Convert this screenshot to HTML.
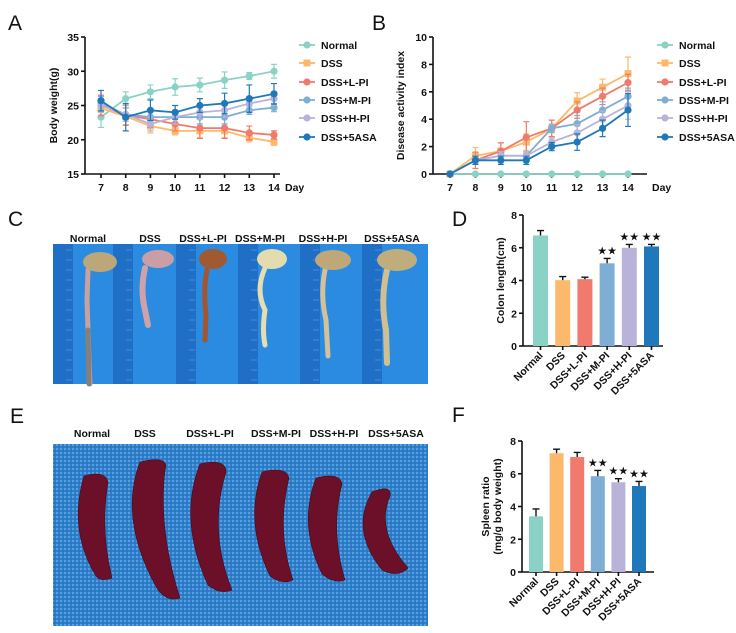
<!DOCTYPE html>
<html><head><meta charset="utf-8"><style>
html,body{margin:0;padding:0;background:#fff;}
svg{display:block;font-family:"Liberation Sans",Arial,sans-serif;}
.t{font-weight:bold;font-size:10.5px;fill:#111;}
.pl{font-size:21px;fill:#111;}
.ax{stroke:#111;stroke-width:1.6;fill:none;}
</style></head><body>
<svg id="fig" width="736" height="633" viewBox="0 0 736 633">
<defs>
<pattern id="cloth" width="4" height="4" patternUnits="userSpaceOnUse">
<rect width="4" height="4" fill="#2d7fcb"/>
<circle cx="1" cy="1" r="0.9" fill="#7ab6ea"/>
<circle cx="3" cy="3" r="0.6" fill="#1f63a8"/>
</pattern>
</defs>
<!-- panel letters -->
<text class="pl" x="8" y="30">A</text>
<text class="pl" x="372" y="30">B</text>
<text class="pl" x="8" y="226">C</text>
<text class="pl" x="452" y="226">D</text>
<text class="pl" x="10" y="423">E</text>
<text class="pl" x="452" y="422">F</text>

<!-- Panel C photo -->
<g>
<rect x="53" y="244" width="375" height="140" fill="#2a8be0"/>
<g fill="#1e6cc4" opacity="0.9">
<rect x="53" y="244" width="20" height="140"/><rect x="113" y="244" width="20" height="140"/>
<rect x="176" y="244" width="20" height="140"/><rect x="238" y="244" width="20" height="140"/>
<rect x="300" y="244" width="20" height="140"/><rect x="362" y="244" width="20" height="140"/>
</g>
<g stroke="#9fc6ee" stroke-width="0.6" opacity="0.7">
<path d="M66 250H72M66 260H72M66 270H72M66 280H72M66 290H72M66 300H72M66 310H72M66 320H72M66 330H72M66 340H72M66 350H72M66 360H72M66 370H72M66 380H72"/>
<path d="M126 250H132M126 260H132M126 270H132M126 280H132M126 290H132M126 300H132M126 310H132M126 320H132M126 330H132M126 340H132M126 350H132M126 360H132M126 370H132M126 380H132"/>
<path d="M189 250H195M189 260H195M189 270H195M189 280H195M189 290H195M189 300H195M189 310H195M189 320H195M189 330H195M189 340H195M189 350H195M189 360H195M189 370H195M189 380H195"/>
<path d="M251 250H257M251 260H257M251 270H257M251 280H257M251 290H257M251 300H257M251 310H257M251 320H257M251 330H257M251 340H257M251 350H257M251 360H257M251 370H257M251 380H257"/>
<path d="M313 250H319M313 260H319M313 270H319M313 280H319M313 290H319M313 300H319M313 310H319M313 320H319M313 330H319M313 340H319M313 350H319M313 360H319M313 370H319M313 380H319"/>
<path d="M375 250H381M375 260H381M375 270H381M375 280H381M375 290H381M375 300H381M375 310H381M375 320H381M375 330H381M375 340H381M375 350H381M375 360H381M375 370H381M375 380H381"/>
</g>
<g stroke-linecap="round" fill="none">
<path d="M88 270 L87 300 L88 330 L89 362 L90 384" stroke="#c7a2a0" stroke-width="5"/>
<path d="M88 330 L89 384" stroke="#8a7f78" stroke-width="5"/>
<path d="M145 268 Q140 290 145 310 L148 325" stroke="#cfa2aa" stroke-width="6"/>
<path d="M207 270 Q203 290 206 315 L205 340" stroke="#a2552e" stroke-width="5"/>
<path d="M265 268 Q255 290 265 310 Q262 330 265 345" stroke="#e6ddb0" stroke-width="5"/>
<path d="M325 270 Q320 295 326 320 L328 356" stroke="#d4c09a" stroke-width="5"/>
<path d="M387 270 Q380 300 386 330 L387 363" stroke="#cec093" stroke-width="6"/>
</g>
<ellipse cx="100" cy="262" rx="17" ry="10" fill="#bba77a"/>
<ellipse cx="158" cy="259" rx="16" ry="9" fill="#c99ea4"/>
<ellipse cx="213" cy="259" rx="14" ry="10" fill="#a05a33"/>
<ellipse cx="272" cy="259" rx="15" ry="10" fill="#e4dbaf"/>
<ellipse cx="333" cy="260" rx="18" ry="10" fill="#bea877"/>
<ellipse cx="397" cy="260" rx="20" ry="11" fill="#bfae7c"/>
</g>
<g class="t" text-anchor="middle">
<text x="88" y="242">Normal</text><text x="150" y="242">DSS</text><text x="203" y="242">DSS+L-PI</text>
<text x="260" y="242">DSS+M-PI</text><text x="323" y="242">DSS+H-PI</text><text x="392" y="242">DSS+5ASA</text>
</g>

<!-- Panel E photo -->
<g>
<rect x="53" y="444" width="375" height="182" fill="url(#cloth)"/>
<g fill="#6b1028" stroke="#4a0818" stroke-width="0.6">
<path d="M84 476 Q105 470 108 482 Q100 530 112 578 Q100 582 96 576 Q68 530 84 476Z"/>
<path d="M140 462 Q170 455 165 470 Q158 530 180 598 Q168 602 158 590 Q118 520 140 462Z"/>
<path d="M200 464 Q226 458 226 472 Q208 530 232 590 Q220 595 208 585 Q178 520 200 464Z"/>
<path d="M262 472 Q286 466 289 478 Q276 530 293 580 Q282 585 270 576 Q244 522 262 472Z"/>
<path d="M316 478 Q340 472 342 484 Q330 530 345 580 Q334 584 322 574 Q298 525 316 478Z"/>
<path d="M372 492 Q392 484 390 496 Q375 530 408 568 Q398 578 382 570 Q350 530 372 492Z"/>
</g>
</g>
<g class="t" text-anchor="middle">
<text x="92" y="437">Normal</text><text x="145" y="437">DSS</text><text x="210" y="437">DSS+L-PI</text>
<text x="276" y="437">DSS+M-PI</text><text x="334" y="437">DSS+H-PI</text><text x="396" y="437">DSS+5ASA</text>
</g>

<g id="charts"></g>
</svg>
<script>
const days=[7,8,9,10,11,12,13,14];
const groups=["Normal","DSS","DSS+L-PI","DSS+M-PI","DSS+H-PI","DSS+5ASA"];
const colors=["#8ad2c6","#fdb96b","#f07a6b","#7eaed4","#b9b3da","#1f78b9"];
// Panel A body weight
const bwNormal=[23.3,26,27,27.7,28,28.7,29.3,30];
const bwDSS=[24.6,23.4,22,21.3,21.3,21.3,20.3,19.7];
const bwL=[25,23.6,23,22.3,21.7,21.7,21,20.7];
const bwM=[25.3,23.7,23.3,23.3,23.3,23.3,24.3,24.7];
const bwH=[25,23.7,22.3,23.3,24,24.3,25.3,26];
const bw5=[25.7,23.3,24.3,24,25,25.3,26,26.7];
const bwErrNormal=[1.5,1,1,1.2,1,1.2,0.5,1];
const bwErrDSS=[1,1.2,1,0.6,1,1,0.6,0.5];
const bwErrL=[1.5,1.5,1.2,1,1.5,1.5,1,0.6];
const bwErrM=[1,1,1,1,1,1,0.6,0.6];
const bwErrH=[1,1,1,1,1,1,1,1];
const bwErr5=[1.5,2,1.5,1,1,1.5,2,1.5];
const bwTicks=[15,20,25,30,35];
// Panel B DAI
const daiNormal=[0,0,0,0,0,0,0,0];
const daiDSS=[0,1.33,1.67,2.33,3.33,5.33,6.33,7.33];
const daiL=[0,1,1.67,2.67,3.33,4.67,5.67,6.67];
const daiM=[0,1,1.33,1.33,3.33,3.67,4.67,5.67];
const daiH=[0,1,1.33,1.33,2.33,3,4,5];
const dai5=[0,1,1,1,2,2.33,3.33,4.67];
const daiErrNormal=[0,0,0,0,0,0,0,0];
const daiErrDSS=[0,0.6,0.6,0.6,0.6,0.6,0.6,1.2];
const daiErrL=[0,0.6,0.6,1.15,0.6,0.6,0.6,0.6];
const daiErrM=[0,0.3,0.3,0.3,0.3,0.6,0.6,0.6];
const daiErrH=[0,0.3,0.3,0.3,0.3,0.6,0.6,1];
const daiErr5=[0,0.3,0.3,0.3,0.3,0.6,0.6,1.2];
const daiTicks=[0,2,4,6,8,10];
// Panel D colon length
const colonLen=[6.75,4.02,4.08,5.05,6.0,6.08];
const colonErr=[0.3,0.22,0.12,0.3,0.2,0.12];
const colonSig=[false,false,false,true,true,true];
// Panel F spleen ratio
const spleenRatio=[3.4,7.25,7.02,5.85,5.48,5.25];
const spleenErr=[0.45,0.25,0.28,0.35,0.22,0.28];
const spleenSig=[false,false,false,true,true,true];
const barTicks=[0,2,4,6,8];

const NS="http://www.w3.org/2000/svg";
const root=document.getElementById("charts");
function mk(tag,attrs,parent,text){const e=document.createElementNS(NS,tag);for(const k in attrs)e.setAttribute(k,attrs[k]);if(text!==undefined)e.textContent=text;(parent||root).appendChild(e);return e;}

function lineChart(id,xs,ys,yTicks,series,errs,ax,legendX,yLabel,yLabelX){
  const g=mk("g",{});
  
  
  mk("line",{x1:ax.x0,y1:ax.yTop,x2:ax.x0,y2:ax.yBot,class:"ax"},g);
  mk("line",{x1:ax.x0,y1:ax.yBot,x2:ax.xEnd,y2:ax.yBot,class:"ax"},g);
  yTicks.forEach(t=>{const y=ys(t);
    mk("line",{x1:ax.x0-4,y1:y,x2:ax.x0,y2:y,class:"ax"},g);
    const tl=mk("text",{x:ax.x0-6,y:y+4,class:"t","text-anchor":"end"},g,String(t));
    
    });
  days.forEach(d=>{const x=xs(d);
    mk("line",{x1:x,y1:ax.yBot,x2:x,y2:ax.yBot+4,class:"ax"},g);
    const tl=mk("text",{x:x,y:ax.yBot+17,class:"t","text-anchor":"middle"},g,String(d));
    
    });
  const dl=mk("text",{x:ax.xEnd+5,y:ax.yBot+17,class:"t","font-size":"12"},g,"Day");
  
  
  const cy=(ax.yTop+ax.yBot)/2;
  const yl=mk("text",{x:yLabelX,y:cy,class:"t","font-size":"12","text-anchor":"middle",transform:`rotate(-90 ${yLabelX} ${cy})`},g,yLabel);
  
  
  series.forEach((vals,si)=>{
    const c=colors[si];
    const sg=mk("g",{},g);
    
    
    vals.forEach((v,i)=>{const e=errs[si][i];if(e>0){const x=xs(days[i]);
      mk("path",{d:`M${x} ${ys(v-e)}V${ys(v+e)}M${x-3} ${ys(v+e)}H${x+3}M${x-3} ${ys(v-e)}H${x+3}`,stroke:c,"stroke-width":1.2,fill:"none"},sg);}});
    mk("polyline",{points:vals.map((v,i)=>xs(days[i])+","+ys(v)).join(" "),stroke:c,"stroke-width":1.8,fill:"none"},sg);
    vals.forEach((v,i)=>{const x=xs(days[i]),y=ys(v);
      if(si===1)mk("rect",{x:x-3.5,y:y-3.5,width:7,height:7,fill:c},sg);
      else mk("circle",{cx:x,cy:y,r:3.6,fill:c},sg);});
  });
  const rowsY=[45,63,82,100,118,137];
  groups.forEach((nm,si)=>{const y=rowsY[si],c=colors[si];
    const lg=mk("g",{},g);
    
    
    mk("line",{x1:legendX,y1:y,x2:legendX+16,y2:y,stroke:c,"stroke-width":1.8},lg);
    if(si===1)mk("rect",{x:legendX+4.5,y:y-3.5,width:7,height:7,fill:c},lg);
    else mk("circle",{cx:legendX+8,cy:y,r:3.6,fill:c},lg);
    mk("text",{x:legendX+22,y:y+4,class:"t"},lg,nm);});
}

const xA=d=>101+(d-7)*(173/7), yA=v=>174-(v-15)*(137/20);
lineChart("body-weight",xA,yA,bwTicks,[bwNormal,bwDSS,bwL,bwM,bwH,bw5],[bwErrNormal,bwErrDSS,bwErrL,bwErrM,bwErrH,bwErr5],
  {x0:85,yTop:37,yBot:174,xEnd:280},299,"Body weight(g)",57);
const xB=d=>450+(d-7)*(178/7), yB=v=>174-v*13.7;
lineChart("dai",xB,yB,daiTicks,[daiNormal,daiDSS,daiL,daiM,daiH,dai5],[daiErrNormal,daiErrDSS,daiErrL,daiErrM,daiErrH,daiErr5],
  {x0:433,yTop:37,yBot:174,xEnd:647},657,"Disease activity index",404);

function barChart(id,vals,errs,sig,ax,yLabels){
  const g=mk("g",{});
  
  
  const ys=v=>ax.yBot-v*(ax.yBot-ax.yTop)/8;
  const xs=i=>ax.c0+i*ax.step;
  mk("line",{x1:ax.x0,y1:ax.yTop,x2:ax.x0,y2:ax.yBot,class:"ax"},g);
  mk("line",{x1:ax.x0,y1:ax.yBot,x2:ax.xEnd,y2:ax.yBot,class:"ax"},g);
  barTicks.forEach(t=>{const y=ys(t);
    mk("line",{x1:ax.x0-4,y1:y,x2:ax.x0,y2:y,class:"ax"},g);
    const tl=mk("text",{x:ax.x0-6,y:y+4,class:"t","text-anchor":"end"},g,String(t));
    
    });
  vals.forEach((v,i)=>{const x=xs(i),c=colors[i];
    const b=mk("rect",{x:x-ax.w/2,y:ys(v),width:ax.w,height:ax.yBot-ys(v),fill:c},g);
    
    
    const top=ys(v+errs[i]);
    mk("path",{d:`M${x} ${ys(v)}V${top}M${x-3.5} ${top}H${x+3.5}`,stroke:"#111","stroke-width":1.4,fill:"none"},g);
    mk("line",{x1:x,y1:ax.yBot,x2:x,y2:ax.yBot+4,class:"ax"},g);
    const lx=x+3,ly=ax.yBot+10;
    const tl=mk("text",{x:lx,y:ly,class:"t","text-anchor":"end",transform:`rotate(-45 ${lx} ${ly})`},g,groups[i]);
    
    
    if(sig[i]){const s=mk("text",{x:x,y:top-4,"text-anchor":"middle","font-size":"11",fill:"#111"},g,"★★");
      
      }
  });
  const cy=(ax.yTop+ax.yBot)/2;
  yLabels.forEach((lab,k)=>{const lx=ax.labX+k*12;
    const yl=mk("text",{x:lx,y:cy,class:"t","font-size":"12","text-anchor":"middle",transform:`rotate(-90 ${lx} ${cy})`},g,lab);
    
    });
}
barChart("colon-length",colonLen,colonErr,colonSig,{x0:523,yTop:215,yBot:346,xEnd:663,c0:540.5,step:22.2,w:15,labX:504},["Colon length(cm)"]);
barChart("spleen-ratio",spleenRatio,spleenErr,spleenSig,{x0:522,yTop:441,yBot:572,xEnd:654,c0:536,step:20.6,w:14,labX:489},["Spleen ratio","(mg/g body weight)"]);
</script>
</body></html>
